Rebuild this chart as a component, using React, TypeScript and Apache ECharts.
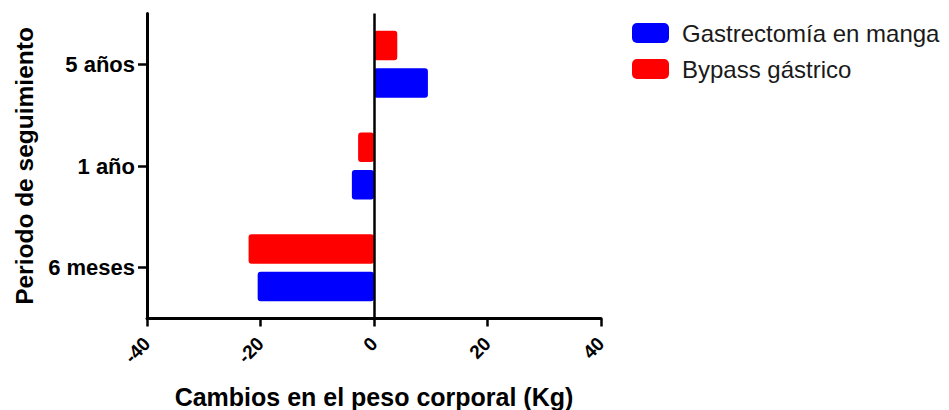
import React, { useEffect, useRef } from "react";
import * as echarts from "echarts";

const categories = ["6 meses", "1 año", "5 años"];
const gastrectomia = [-20.5, -3.9, 9.5];
const bypass = [-22.1, -2.8, 4.1];
const xTicks = { min: -40, max: 40, interval: 20 };
const seriesNames = ["Gastrectomía en manga", "Bypass gástrico"];

const FONT = "'Liberation Sans', Arial, sans-serif";

export default function App() {
  const ref = useRef<HTMLDivElement>(null);
  useEffect(() => {
    if (!ref.current) return;
    const chart = echarts.init(ref.current, undefined, { renderer: "svg" });
    chart.setOption({
      animation: false,
      backgroundColor: "#ffffff",
      grid: {
        left: 147,
        right: 348,
        top: 13.5,
        bottom: 91.5,
        containLabel: false,
        outerBoundsMode: "none",
      },
      legend: {
        data: seriesNames,
        orient: "vertical",
        left: 627,
        top: 16,
        itemWidth: 37,
        itemHeight: 20,
        itemGap: 12,
        icon: "roundRect",
        textStyle: { fontFamily: FONT, fontSize: 24, color: "#1a1a1a", padding: [0, 0, 0, 8] },
      },
      xAxis: {
        type: "value",
        min: xTicks.min,
        max: xTicks.max,
        interval: xTicks.interval,
        name: "Cambios en el peso corporal (Kg)",
        nameLocation: "middle",
        nameGap: 66,
        nameTextStyle: { fontFamily: FONT, fontSize: 25, fontWeight: "bold", color: "#000" },
        axisLine: { show: true, onZero: false, lineStyle: { color: "#000", width: 3 } },
        axisTick: { show: true, length: 8, lineStyle: { color: "#000", width: 2.5 } },
        splitLine: { show: false },
        axisLabel: {
          rotate: 45,
          margin: 22,
          fontFamily: FONT,
          fontSize: 19,
          fontWeight: "bold",
          color: "#000",
        },
      },
      yAxis: {
        type: "category",
        data: categories,
        name: "Periodo de seguimiento",
        nameLocation: "middle",
        nameGap: 110,
        nameTextStyle: { fontFamily: FONT, fontSize: 24.5, fontWeight: "bold", color: "#000" },
        axisLine: { show: true, onZero: false, lineStyle: { color: "#000", width: 3 } },
        axisTick: { show: true, alignWithLabel: true, length: 9, lineStyle: { color: "#000", width: 2.5 } },
        axisLabel: { margin: 12, fontFamily: FONT, fontSize: 22, fontWeight: "bold", color: "#000" },
        splitLine: { show: false },
      },
      series: [
        {
          name: seriesNames[1],
          type: "bar",
          data: bypass,
          barWidth: 29.5,
          barGap: "27%",
          itemStyle: { color: "#ff0000", borderRadius: 3 },
          markLine: {
            silent: true,
            symbol: "none",
            label: { show: false },
            lineStyle: { color: "#000", width: 2.5, type: "solid" },
            data: [{ xAxis: 0 }],
          },
        },
        {
          name: seriesNames[0],
          type: "bar",
          data: gastrectomia,
          barWidth: 29.5,
          barGap: "27%",
          itemStyle: { color: "#0000ff", borderRadius: 3 },
        },
      ],
    });
    return () => chart.dispose();
  }, []);
  return (
    <div
      ref={ref}
      style={{ position: "fixed", left: 0, top: 0, width: 949, height: 410, background: "#fff" }}
    />
  );
}
